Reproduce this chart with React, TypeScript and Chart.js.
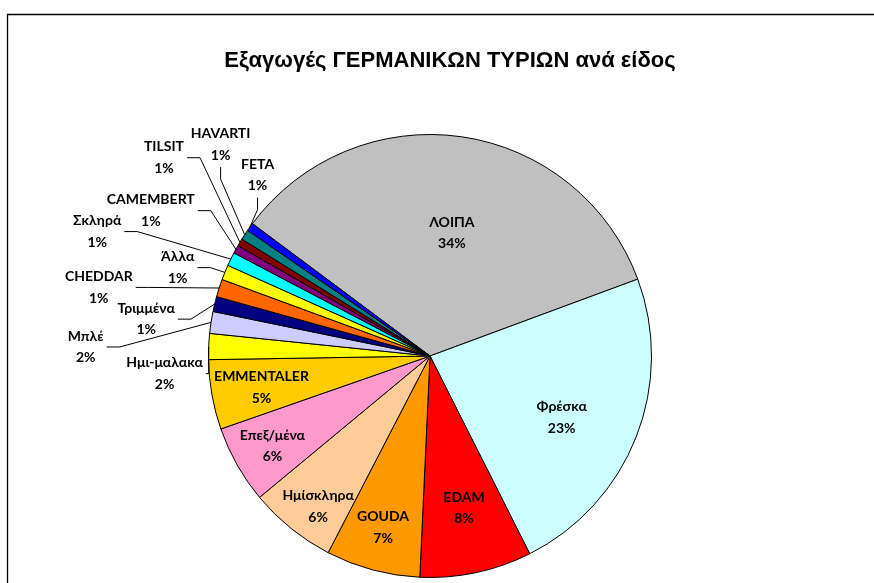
import React, { useEffect, useRef } from "react";
import { Chart, registerables } from "chart.js";

Chart.register(...registerables);

const TITLE = "Εξαγωγές ΓΕΡΜΑΝΙΚΩΝ ΤΥΡΙΩΝ ανά είδος";

const categories = [
  "ΛΟΙΠΑ", "Φρέσκα", "EDAM", "GOUDA", "Ημίσκληρα", "Επεξ/μένα", "EMMENTALER",
  "Ημι-μαλακα", "Μπλέ", "Τριμμένα", "CHEDDAR", "Άλλα", "Σκληρά", "CAMEMBERT",
  "TILSIT", "HAVARTI", "FETA",
];

const shares = [34.3, 23.3, 8.2, 6.9, 6.4, 5.7, 5.1, 1.9, 1.6, 1.1, 1.3, 1.1, 1.0, 0.6, 0.55, 0.75, 0.6];

const sliceColors = [
  "#C0C0C0", "#CCFFFF", "#FF0000", "#FF9900", "#FFCC99", "#FF99CC", "#FFCC00",
  "#FFFF00", "#CCCCFF", "#000080", "#FF6600", "#FFFF00", "#00FFFF", "#800080",
  "#800000", "#008080", "#0000FF",
];

// label placement: [angle clockwise from top in degrees, distance as fraction of radius]
const labelPlacement: [number, number][] = [
  [10.1, 0.563], [115.0, 0.656], [167.4, 0.704], [195.3, 0.803], [216.6, 0.847],
  [240.3, 0.819], [259.4, 0.774], [266.2, 1.201], [271.5, 1.555], [277.4, 1.292],
  [281.7, 1.527], [289.3, 1.207], [290.5, 1.604], [297.5, 1.421], [306.7, 1.498],
  [315.3, 1.344], [316.4, 1.129],
];

const START_ANGLE = 306.7;
const LABEL_FONT = "bold 14px Lato, 'Noto Sans', sans-serif";
const TITLE_FONT = "bold 22px 'Liberation Sans', Arial, sans-serif";
const LINE_GAP = 21.5;

const decorPlugin = {
  id: "decor",
  beforeDraw(chart: any) {
    const ctx = chart.ctx;
    ctx.save();
    ctx.fillStyle = "#ffffff";
    ctx.fillRect(0, 0, chart.width, chart.height);
    ctx.strokeStyle = "#000000";
    ctx.lineWidth = 1.3;
    ctx.beginPath();
    ctx.moveTo(7.5, chart.height + 5);
    ctx.lineTo(7.5, 14.5);
    ctx.lineTo(chart.width + 5, 14.5);
    ctx.stroke();
    ctx.font = TITLE_FONT;
    ctx.fillStyle = "#000000";
    ctx.textAlign = "center";
    ctx.textBaseline = "middle";
    ctx.fillText(TITLE, 450, 61);
    ctx.restore();
  },
  afterDatasetsDraw(chart: any) {
    const ctx = chart.ctx;
    const meta = chart.getDatasetMeta(0);
    const data = chart.data.datasets[0].data as number[];
    const total = data.reduce((a, b) => a + b, 0);
    ctx.save();
    ctx.font = LABEL_FONT;
    ctx.fillStyle = "#000000";
    ctx.textAlign = "center";
    ctx.textBaseline = "middle";
    meta.data.forEach((arc: any, i: number) => {
      const { x, y, outerRadius, startAngle, endAngle } = arc.getProps(
        ["x", "y", "outerRadius", "startAngle", "endAngle"], true
      );
      const [deg, frac] = labelPlacement[i];
      const a = ((deg - 90) * Math.PI) / 180;
      const lx = x + outerRadius * frac * Math.cos(a);
      const ly = y + outerRadius * frac * Math.sin(a);
      const name = categories[i];
      const pct = Math.round((data[i] / total) * 100) + "%";
      ctx.fillText(name, lx, ly - LINE_GAP / 2);
      ctx.fillText(pct, lx, ly + LINE_GAP / 2);
      if (frac > 1) {
        const mid = (startAngle + endAngle) / 2;
        const ex = x + outerRadius * Math.cos(mid);
        const ey = y + outerRadius * Math.sin(mid);
        const w = Math.max(ctx.measureText(name).width, ctx.measureText(pct).width);
        const dx = ex - lx;
        const dy = ey - ly;
        ctx.strokeStyle = "#000000";
        ctx.lineWidth = 1;
        ctx.beginPath();
        if (Math.abs(dx) < 0.5 * Math.abs(dy)) {
          const sx = lx;
          const sy = ly + LINE_GAP / 2 + 12;
          ctx.moveTo(sx, sy);
          ctx.lineTo(sx, sy + 12);
          ctx.lineTo(ex, ey);
        } else {
          const sx = lx + w / 2 + 3;
          const sy = ly;
          if (Math.hypot(ex - sx, ey - sy) < 20) return;
          ctx.moveTo(sx, sy);
          ctx.lineTo(Math.min(sx + 13, ex), sy);
          ctx.lineTo(ex, ey);
        }
        ctx.stroke();
      }
    });
    ctx.restore();
  },
};

export default function App() {
  const ref = useRef<HTMLCanvasElement | null>(null);
  useEffect(() => {
    if (!ref.current) return;
    const chart = new Chart(ref.current, {
      type: "pie",
      data: {
        labels: categories,
        datasets: [
          {
            data: shares,
            backgroundColor: sliceColors,
            borderColor: "#000000",
            borderWidth: 1,
            hoverOffset: 0,
          },
        ],
      },
      options: {
        responsive: false,
        animation: false,
        devicePixelRatio: 1,
        events: [],
        rotation: START_ANGLE,
        layout: { padding: { left: 0, right: 14, top: 134, bottom: 5 } },
        plugins: {
          legend: { display: false },
          tooltip: { enabled: false },
          title: { display: false },
        },
      },
      plugins: [decorPlugin],
    });
    return () => chart.destroy();
  }, []);
  return (
    <div style={{ position: "absolute", left: 0, top: 0, width: 874, height: 583 }}>
      <canvas ref={ref} width={874} height={583} style={{ display: "block" }} />
    </div>
  );
}
